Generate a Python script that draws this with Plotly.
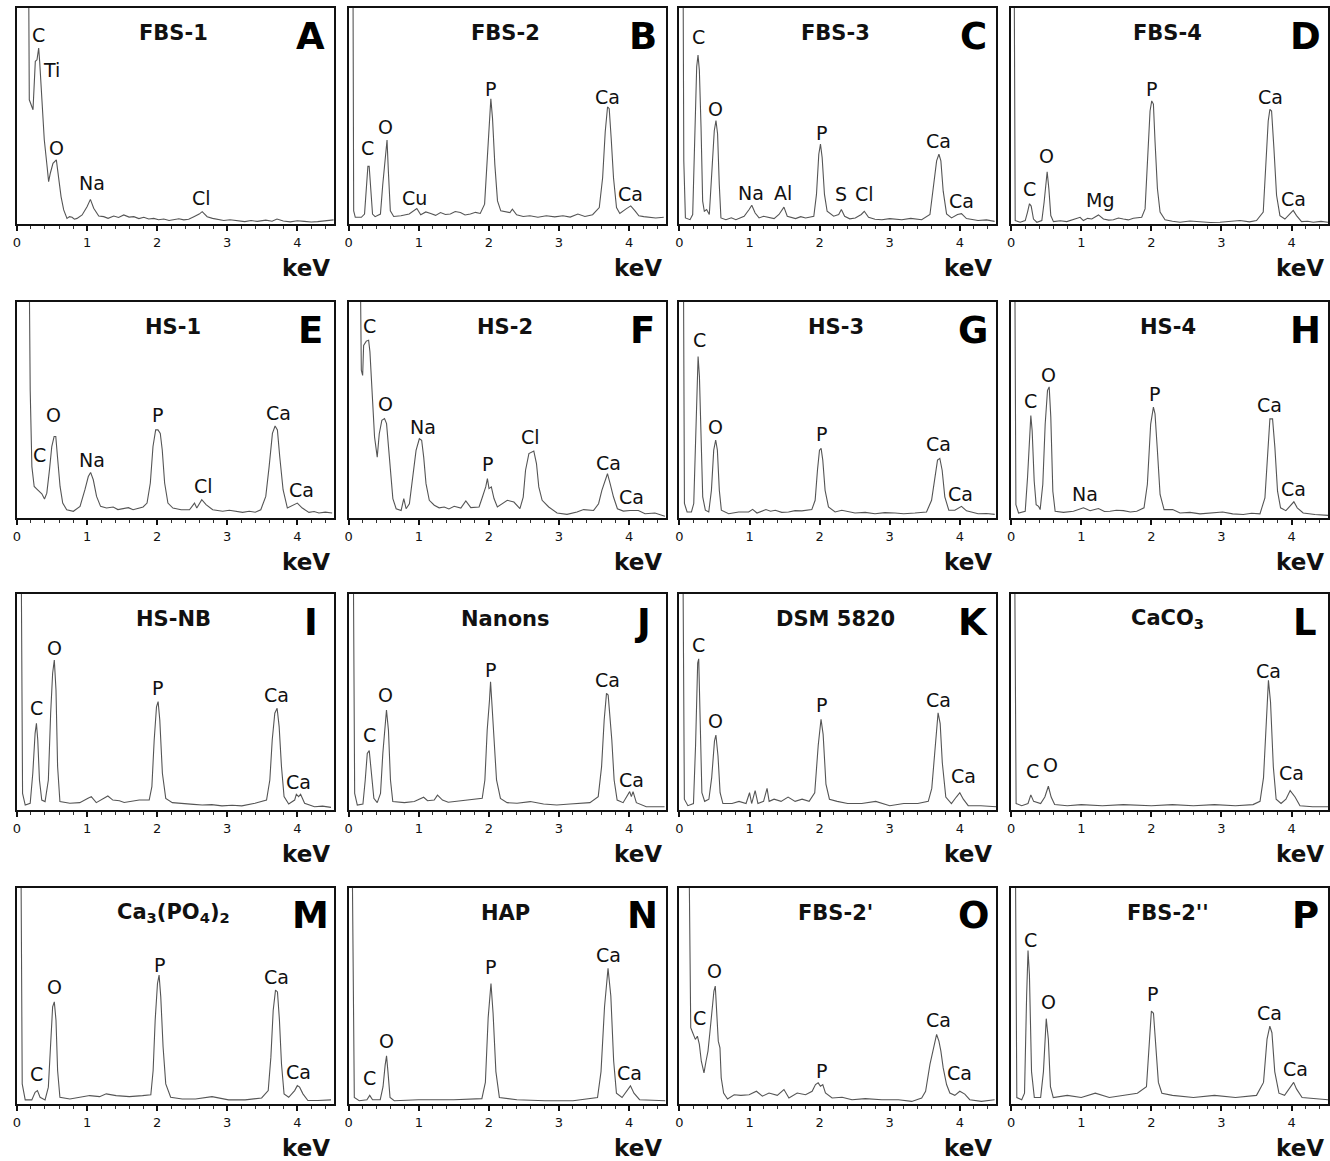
import plotly.graph_objects as go

W, H = 1330, 1161

# ---------------- spectra (keV, relative counts; 100 = top of frame) ----------------
fbs1_kev = [0.167, 0.176, 0.229, 0.262, 0.286, 0.31, 0.324, 0.357, 0.39, 0.43, 0.452, 0.476, 0.514, 0.562, 0.595,
            0.629, 0.667, 0.714, 0.75, 0.786, 0.82, 0.857, 0.93, 1.0, 1.048, 1.095, 1.167, 1.238, 1.3, 1.381, 1.45,
            1.524, 1.6, 1.667, 1.74, 1.81, 1.88, 1.952, 2.02, 2.095, 2.17, 2.238, 2.31, 2.381, 2.45, 2.524, 2.6,
            2.643, 2.714, 2.79, 2.857, 2.95, 3.04, 3.14, 3.25, 3.34, 3.43, 3.55, 3.64, 3.71, 3.8, 3.9, 4.0, 4.1,
            4.2, 4.29, 4.4, 4.52]
fbs1_counts = [115, 57.5, 52.9, 75.3, 76, 81.5, 75.3, 57.5, 39, 26.6, 19.6, 23.5, 28.1, 29.7, 22,
               12.7, 6.5, 2.6, 3.4, 3.1, 2.2, 2.6, 4.2, 8, 11.4, 7.3, 3.7, 3.4, 2.6, 3.7, 3.0,
               4.2, 3.2, 3.4, 2.5, 3.1, 2.3, 2.6, 2.0, 2.3, 1.6, 1.9, 2.4, 1.9, 2.2, 3.4, 4.6,
               5.7, 3.4, 2.6, 2.2, 1.6, 2.0, 1.5, 1.1, 1.6, 1.2, 1.8, 1.3, 2.3, 1.4, 1.0, 1.5, 1.2,
               0.9, 1.1, 1.6, 1.9]
fbs1_labels = [("C", 0.31, 87.5), ("Ti", 0.50, 71.3), ("O", 0.56, 35), ("Na", 1.07, 18.8), ("Cl", 2.63, 11.9)]

fbs2_kev = [0.061, 0.071, 0.094, 0.18, 0.226, 0.255, 0.274, 0.292, 0.311, 0.34, 0.377, 0.453, 0.486, 0.519, 0.547,
            0.566, 0.594, 0.642, 0.745, 0.863, 0.925, 0.972, 1.028, 1.1, 1.17, 1.24, 1.31, 1.38, 1.45, 1.52, 1.594,
            1.66, 1.736, 1.81, 1.877, 1.939, 1.972, 2.005, 2.028, 2.052, 2.085, 2.123, 2.17, 2.3, 2.335, 2.396,
            2.49, 2.585, 2.7, 2.82, 2.94, 3.057, 3.16, 3.27, 3.37, 3.48, 3.575, 3.623, 3.66, 3.693, 3.717, 3.745,
            3.778, 3.821, 3.868, 3.953, 4.024, 4.085, 4.14, 4.21, 4.283, 4.38, 4.495]
fbs2_counts = [115, 6.1, 3.1, 3.1, 4.6, 18.3, 26.7, 26.7, 18.3, 4.6, 3.4, 4.6, 18.3, 30.5, 38.9,
               24.4, 6.1, 3.5, 3.8, 4.6, 6.1, 7.2, 4.3, 5.6, 4.9, 4.0, 5.3, 4.4, 4.6, 5.8, 5.3,
               4.2, 4.6, 5.4, 4.9, 9.2, 27.5, 48.9, 58, 48.9, 27.5, 10.7, 6.1, 5.3, 6.9, 4.3,
               3.5, 3.8, 3.1, 3.8, 3.3, 3.8, 3.2, 4.6, 3.5, 4.3, 7.6, 21.4, 42.7, 54.2, 53.4, 39.7,
               21.4, 7.6, 4.9, 6.9, 8.4, 6.1, 3.8, 3.4, 3.1, 2.8, 3.1]
fbs2_labels = [("C", 0.27, 35.1), ("O", 0.53, 45), ("Cu", 0.94, 12.2), ("P", 2.02, 62.6), ("Ca", 3.69, 58.8),
               ("Ca", 4.02, 13.7)]

fbs3_kev = [0.052, 0.062, 0.085, 0.151, 0.189, 0.218, 0.246, 0.265, 0.284, 0.308, 0.331, 0.355, 0.388, 0.426,
            0.459, 0.497, 0.521, 0.544, 0.568, 0.592, 0.663, 0.74, 0.805, 0.87, 0.923, 0.994, 1.032, 1.08, 1.136,
            1.2, 1.278, 1.35, 1.42, 1.491, 1.538, 1.6, 1.657, 1.73, 1.8, 1.917, 1.955, 1.988, 2.012, 2.036, 2.069,
            2.107, 2.2, 2.272, 2.31, 2.357, 2.43, 2.509, 2.594, 2.637, 2.698, 2.79, 2.888, 3.0, 3.172, 3.3, 3.456,
            3.574, 3.621, 3.669, 3.702, 3.73, 3.763, 3.811, 3.882, 3.967, 4.024, 4.095, 4.26, 4.38, 4.497]
fbs3_counts = [115, 29.2, 2.8, 2.0, 4.4, 41.7, 72.8, 78.2, 71.2, 44.8, 10.6, 5.9, 6.7, 4.4,
               21.5, 43.2, 47.9, 41.7, 18.4, 2.8, 2.0, 2.9, 2.0, 2.8, 3.6, 6.7, 8.7, 5.1, 2.8,
               3.6, 3.1, 2.5, 4.4, 7.8, 3.6, 2.9, 2.5, 3.4, 2.8, 3.6, 13.7, 32.3, 37, 30.8, 13.7,
               5.9, 3.6, 4.4, 6.7, 3.6, 2.4, 2.8, 4.4, 5.9, 3.1, 2.2, 2.0, 2.5, 2.0, 2.6, 2.0,
               4.4, 16.8, 29.2, 32.3, 29.2, 15.2, 4.7, 2.8, 4.4, 4.8, 2.5, 1.6, 1.9, 1.2]
fbs3_labels = [("C", 0.275, 86.5), ("O", 0.52, 53.3), ("Na", 1.02, 14.5), ("Al", 1.48, 14.5), ("P", 2.02, 42),
               ("S", 2.31, 14), ("Cl", 2.64, 14), ("Ca", 3.7, 38.6), ("Ca", 4.02, 10.6)]

fbs4_kev = [0.043, 0.057, 0.128, 0.2, 0.233, 0.261, 0.285, 0.318, 0.366, 0.437, 0.47, 0.494, 0.513, 0.537, 0.565,
            0.603, 0.7, 0.793, 0.888, 0.983, 1.03, 1.09, 1.15, 1.245, 1.316, 1.39, 1.458, 1.53, 1.6, 1.67, 1.743,
            1.862, 1.91, 1.943, 1.981, 2.005, 2.029, 2.052, 2.086, 2.124, 2.195, 2.3, 2.409, 2.55, 2.694, 2.84,
            2.979, 3.12, 3.264, 3.4, 3.5, 3.596, 3.634, 3.667, 3.691, 3.715, 3.748, 3.786, 3.834, 3.905, 3.976,
            4.024, 4.071, 4.143, 4.23, 4.31, 4.42, 4.52]
fbs4_counts = [115, 1.6, 0.8, 1.6, 5.5, 9.4, 8.3, 2.3, 0.8, 1.6, 10.2, 19.5, 24.2, 16.4, 3.9,
               1.1, 1.5, 1.1, 2.0, 3.1, 1.6, 2.6, 2.3, 4.2, 2.3, 1.8, 2.0, 2.8, 2.3, 1.9, 2.7,
               3.1, 7, 28.9, 52.3, 57, 55.5, 38.3, 16.4, 5.5, 2.0, 1.3, 0.8, 1.4, 1.1, 0.7,
               0.8, 1.3, 1.6, 1.0, 1.6, 5.5, 25.8, 47.7, 53.1, 52.3, 35.2, 13.3, 3.9, 2.3, 4.7,
               6.3, 3.9, 1.1, 1.3, 0.8, 1.2, 0.8]
fbs4_labels = [("C", 0.26, 16.4), ("O", 0.51, 31.3), ("Mg", 1.26, 10.9), ("P", 2.0, 62.5), ("Ca", 3.7, 58.6),
               ("Ca", 4.03, 11.7)]

hs1_kev = [0.175, 0.189, 0.213, 0.246, 0.284, 0.322, 0.355, 0.393, 0.426, 0.464, 0.497, 0.53, 0.554, 0.578, 0.615,
           0.653, 0.71, 0.805, 0.9, 0.97, 1.018, 1.051, 1.089, 1.136, 1.193, 1.278, 1.373, 1.44, 1.515, 1.59,
           1.657, 1.73, 1.8, 1.856, 1.903, 1.941, 1.979, 2.012, 2.045, 2.073, 2.107, 2.154, 2.225, 2.343, 2.462,
           2.533, 2.566, 2.637, 2.698, 2.793, 2.935, 3.03, 3.124, 3.22, 3.314, 3.4, 3.479, 3.55, 3.598, 3.645,
           3.683, 3.716, 3.749, 3.797, 3.858, 3.929, 4.0, 4.071, 4.166, 4.24, 4.308, 4.4, 4.497]
hs1_counts = [115, 59.2, 23.8, 14.6, 13.4, 12.3, 11.2, 8.8, 11.5, 22.3, 33.1, 37.7, 37.7, 28.5, 14.6,
              6.9, 3.8, 3.1, 5.4, 13.1, 19.2, 21.1, 17.7, 10, 5.4, 4.6, 5.1, 3.9, 4.2, 4.8,
              3.8, 4.4, 5.1, 6.9, 16.2, 33.1, 40.8, 40.8, 39.2, 31.5, 16.2, 6.9, 4.6, 3.8, 3.8,
              6.9, 4.6, 8.5, 6.2, 3.8, 3.1, 3.6, 3.1, 2.6, 3.1, 2.7, 3.8, 10, 23.8, 39.2,
              42.6, 40.8, 28.5, 13.1, 4.6, 5.7, 6.9, 4.6, 2.6, 3.0, 2.3, 2.7, 2.3]
hs1_labels = [("C", 0.32, 29.2), ("O", 0.52, 47.7), ("Na", 1.07, 26.9), ("P", 2.01, 47.7), ("Cl", 2.66, 14.6),
              ("Ca", 3.73, 48.5), ("Ca", 4.06, 13.1)]

hs2_kev = [0.166, 0.18, 0.199, 0.213, 0.251, 0.284, 0.303, 0.322, 0.341, 0.369, 0.407, 0.436, 0.473, 0.511, 0.54,
           0.568, 0.596, 0.63, 0.677, 0.748, 0.786, 0.819, 0.866, 0.914, 0.961, 1.008, 1.041, 1.07, 1.103, 1.15,
           1.221, 1.29, 1.363, 1.43, 1.505, 1.6, 1.671, 1.742, 1.86, 1.908, 1.955, 1.979, 2.002, 2.035, 2.073,
           2.121, 2.192, 2.263, 2.357, 2.443, 2.49, 2.523, 2.571, 2.641, 2.679, 2.712, 2.76, 2.854, 2.973,
           3.115, 3.257, 3.352, 3.494, 3.565, 3.612, 3.659, 3.692, 3.73, 3.778, 3.834, 3.919, 4.014, 4.133,
           4.228, 4.369, 4.511]
hs2_counts = [115, 68.4, 66, 79.9, 81.9, 82.3, 76.9, 65.3, 48.3, 37.5, 28.2, 39, 45.2, 46, 43.7,
              32.9, 19, 9, 4.3, 3.5, 9, 4.3, 6.6, 19, 31.3, 36.7, 36, 28.2, 15.9, 8.2,
              5.9, 4.7, 5.1, 4.2, 5.4, 4.6, 7.9, 4.8, 5.1, 9.7, 14.4, 18.2, 13.6, 14.4, 9,
              5.1, 6.6, 8.2, 7.4, 4.3, 9.7, 22.1, 29.8, 31, 25.2, 14.4, 8.2, 5.1, 2.3,
              1.7, 2.8, 3.9, 3.5, 6.6, 12.8, 17.4, 20.5, 15.9, 9.7, 4.3, 3.2, 3.5, 3.5,
              2.0, 2.3, 0.8]
hs2_labels = [("C", 0.3, 88.7), ("O", 0.52, 52.9), ("Na", 1.06, 42.1), ("P", 1.98, 25.2), ("Cl", 2.6, 37.5),
              ("Ca", 3.71, 25.5), ("Ca", 4.04, 9.7)]

hs3_kev = [0.057, 0.071, 0.109, 0.171, 0.204, 0.228, 0.251, 0.266, 0.285, 0.308, 0.332, 0.37, 0.418, 0.456, 0.489,
           0.517, 0.541, 0.569, 0.598, 0.702, 0.845, 0.987, 1.044, 1.106, 1.234, 1.3, 1.367, 1.46, 1.556, 1.65,
           1.746, 1.888, 1.936, 1.969, 1.998, 2.021, 2.045, 2.078, 2.126, 2.221, 2.316, 2.505, 2.65, 2.79, 2.93,
           3.075, 3.2, 3.359, 3.525, 3.597, 3.644, 3.682, 3.715, 3.748, 3.786, 3.843, 3.929, 4.024, 4.095,
           4.261, 4.38, 4.498]
hs3_counts = [115, 6.7, 2.8, 2.8, 6.7, 36.1, 67, 74.8, 65.5, 36.1, 9.8, 3.6, 2.8, 12.8, 31.4,
              36.1, 31.4, 12.8, 3.6, 2.0, 2.8, 2.8, 4.0, 2.3, 3.9, 3.1, 3.6, 2.6, 2.8, 3.4,
              3.3, 3.9, 8.2, 22.1, 31.4, 32.2, 26.8, 12.8, 5.1, 2.8, 3.6, 2.3, 2.6, 2.0, 2.5,
              2.3, 2.0, 2.3, 2.8, 8.2, 19, 26.8, 27.6, 22.1, 9.8, 3.6, 3.6, 5.4, 3.3,
              2.0, 2.1, 1.7]
hs3_labels = [("C", 0.28, 82.5), ("O", 0.51, 42.3), ("P", 2.02, 38.9), ("Ca", 3.7, 34.2), ("Ca", 4.01, 11)]

hs4_kev = [0.052, 0.067, 0.105, 0.2, 0.233, 0.261, 0.28, 0.299, 0.328, 0.356, 0.39, 0.413, 0.451, 0.485, 0.518,
           0.542, 0.565, 0.594, 0.627, 0.746, 0.888, 1.031, 1.126, 1.245, 1.33, 1.411, 1.5, 1.601, 1.7, 1.791,
           1.895, 1.943, 1.99, 2.029, 2.052, 2.086, 2.124, 2.181, 2.304, 2.409, 2.55, 2.694, 2.85, 3.017, 3.16,
           3.311, 3.43, 3.549, 3.62, 3.658, 3.691, 3.729, 3.762, 3.8, 3.843, 3.919, 4.0, 4.033, 4.081, 4.166,
           4.333, 4.523]
hs4_counts = [115, 6.2, 2.3, 3.1, 18.7, 40.4, 47.4, 40.4, 17.1, 6.2, 5.4, 3.9, 15.6, 43.5, 59.1,
              60.7, 46.7, 12.4, 3.1, 2.6, 3.1, 4.7, 3.4, 4.4, 3.0, 3.1, 3.6, 3.4, 2.8, 3.1,
              4.7, 15.6, 43.5, 51.3, 48.2, 31.1, 10.9, 3.9, 3.9, 2.3, 2.6, 1.9, 2.3, 2.8, 1.9,
              1.6, 2.2, 1.9, 9.3, 29.5, 45.9, 45.9, 32.7, 12.4, 4.7, 3.4, 6.2, 7.5, 4.7, 2.3,
              1.6, 1.2]
hs4_labels = [("C", 0.27, 54.4), ("O", 0.53, 66.1), ("Na", 1.05, 10.9), ("P", 2.04, 57.5), ("Ca", 3.69, 52.1),
              ("Ca", 4.03, 13.2)]

hsnb_kev = [0.061, 0.08, 0.118, 0.189, 0.226, 0.259, 0.278, 0.297, 0.321, 0.354, 0.401, 0.448, 0.481, 0.509, 0.533,
            0.557, 0.58, 0.613, 0.755, 0.896, 1.014, 1.061, 1.132, 1.226, 1.297, 1.368, 1.462, 1.53, 1.604, 1.68,
            1.745, 1.887, 1.925, 1.958, 1.991, 2.014, 2.038, 2.075, 2.123, 2.217, 2.406, 2.52, 2.642, 2.78, 2.925,
            3.07, 3.208, 3.396, 3.561, 3.608, 3.642, 3.679, 3.712, 3.741, 3.774, 3.811, 3.877, 3.962, 3.986,
            4.019, 4.047, 4.104, 4.245, 4.36, 4.481]
hsnb_counts = [115, 7.7, 2.3, 3.1, 17, 35.5, 40.1, 32.4, 13.9, 4.6, 3.9, 13.9, 44.8, 63.3, 69.4,
               55.6, 20.1, 3.9, 3.1, 3.4, 5.4, 6.2, 3.4, 5.4, 6.5, 4.6, 4.3, 3.5, 3.9, 4.4,
               4.6, 4.6, 10.8, 32.4, 47.8, 50.2, 41.7, 17, 5.4, 3.4, 3.1, 2.6, 2.3, 2.5, 1.9,
               2.2, 1.9, 3.1, 4.6, 13.9, 32.4, 44.8, 47.1, 38.6, 20.1, 6.2, 2.8, 4.6, 7.3,
               6.2, 7.3, 3.1, 1.5, 1.8, 1.2]
hsnb_labels = [("C", 0.28, 47.1), ("O", 0.53, 74.8), ("P", 2.0, 56.3), ("Ca", 3.7, 53.2), ("Ca", 4.01, 13.1)]

nanons_kev = [0.066, 0.085, 0.123, 0.203, 0.236, 0.265, 0.293, 0.322, 0.359, 0.407, 0.454, 0.487, 0.52, 0.539,
              0.567, 0.596, 0.629, 0.794, 0.936, 1.069, 1.125, 1.22, 1.267, 1.338, 1.42, 1.504, 1.645, 1.787,
              1.905, 1.943, 1.976, 2.009, 2.024, 2.043, 2.071, 2.109, 2.165, 2.26, 2.402, 2.591, 2.78, 2.969,
              3.158, 3.348, 3.442, 3.56, 3.608, 3.645, 3.678, 3.702, 3.726, 3.754, 3.787, 3.83, 3.915, 3.986,
              4.009, 4.033, 4.057, 4.104, 4.246, 4.506]
nanons_counts = [115, 7.7, 2.3, 2.8, 13.9, 26.2, 27.5, 17, 5.4, 3.4, 7.7, 26.2, 40.1, 46.3,
                 37, 13.9, 3.9, 3.4, 3.9, 5.9, 4.3, 4.6, 6.9, 4.6, 3.6, 3.9, 4.3, 4.9,
                 5.4, 13.9, 37, 50.9, 59.4, 49.4, 34, 13.9, 5.4, 3.4, 3.1, 3.9, 2.8, 2.3,
                 2.8, 3.4, 3.4, 6.2, 20.1, 41.7, 54, 53.2, 44.8, 32.4, 13.9, 4.6, 3.4, 6.9,
                 8.5, 6.2, 8.5, 3.4, 1.5, 1.5]
nanons_labels = [("C", 0.3, 34.7), ("O", 0.53, 53.2), ("P", 2.02, 64.8), ("Ca", 3.69, 60.2), ("Ca", 4.03, 13.9)]

dsm_kev = [0.05, 0.07, 0.12, 0.2, 0.23, 0.26, 0.275, 0.29, 0.32, 0.36, 0.42, 0.46, 0.5, 0.52, 0.55, 0.58, 0.62,
           0.75, 0.85, 0.95, 1.0, 1.03, 1.08, 1.12, 1.2, 1.25, 1.28, 1.35, 1.45, 1.55, 1.65, 1.75, 1.85, 1.93,
           1.98, 2.02, 2.05, 2.09, 2.14, 2.25, 2.4, 2.6, 2.8, 3.0, 3.2, 3.4, 3.55, 3.6, 3.65, 3.69, 3.72, 3.75,
           3.8, 3.88, 3.95, 4.0, 4.05, 4.12, 4.3, 4.52]
dsm_counts = [115, 5, 2, 3, 30, 68, 70, 50, 8, 4, 5, 15, 32, 34.7, 25, 8, 3,
              3, 4, 3, 8, 3, 9, 3, 4, 10, 4, 5, 4, 6, 4, 5, 4, 8,
              30, 42, 35, 12, 5, 4, 3, 3, 4, 2, 3, 3, 4, 10, 30, 45, 40, 22,
              6, 3, 6, 8, 5, 2, 2, 1.5]
dsm_labels = [("C", 0.27, 76.4), ("O", 0.52, 41.2), ("P", 2.02, 48.6), ("Ca", 3.69, 50.9), ("Ca", 4.05, 15.7)]

caco3_kev = [0.05, 0.07, 0.15, 0.24, 0.28, 0.32, 0.42, 0.48, 0.53, 0.57, 0.62, 0.8, 1.0, 1.3, 1.6, 2.0, 2.3, 2.6,
             2.9, 3.2, 3.45, 3.55, 3.6, 3.64, 3.67, 3.7, 3.74, 3.78, 3.85, 3.92, 3.98, 4.05, 4.12, 4.3, 4.52]
caco3_counts = [115, 3, 2, 3, 7, 4, 3, 6, 11, 6, 2.5, 2, 2.5, 2, 2.5, 2, 2.5, 2,
                2.5, 2, 2.5, 4, 15, 45, 60, 50, 20, 5, 3, 5, 9, 6, 2, 1.5, 1.5]
caco3_labels = [("C", 0.3, 18), ("O", 0.56, 20.8), ("Ca", 3.67, 64.4), ("Ca", 4.0, 17.1)]

ca3po4_kev = [0.057, 0.075, 0.118, 0.212, 0.259, 0.292, 0.33, 0.401, 0.448, 0.481, 0.509, 0.533, 0.557, 0.58,
              0.613, 0.755, 0.896, 1.038, 1.179, 1.274, 1.415, 1.604, 1.792, 1.91, 1.943, 1.972, 2.005, 2.028,
              2.052, 2.085, 2.123, 2.193, 2.358, 2.547, 2.783, 3.019, 3.255, 3.491, 3.585, 3.623, 3.656, 3.689,
              3.717, 3.745, 3.774, 3.811, 3.877, 3.962, 4.0, 4.033, 4.08, 4.151, 4.292, 4.481]
ca3po4_counts = [115, 9.3, 1.9, 1.9, 5.4, 6.2, 3.1, 1.9, 7.8, 31, 45, 47.3, 38.8, 15.5,
                 3.1, 2.3, 3.1, 3.9, 3.4, 4.7, 3.9, 3.4, 3.9, 4.3, 15.5, 38.8, 55.8, 59.7,
                 49.6, 26.4, 9.3, 3.1, 2.3, 2.3, 3.4, 1.9, 1.9, 2.8, 6.2, 21.7, 43.4, 52.7,
                 51.9, 38.8, 18.6, 4.7, 3.1, 6.2, 8.5, 7.8, 4.7, 1.6, 1.6, 1.9]
ca3po4_labels = [("C", 0.28, 14), ("O", 0.53, 54.3), ("P", 2.03, 64.3), ("Ca", 3.7, 58.9), ("Ca", 4.02, 15)]

hap_kev = [0.05, 0.08, 0.15, 0.26, 0.3, 0.34, 0.45, 0.49, 0.52, 0.54, 0.56, 0.59, 0.65, 1.0, 1.5, 1.9, 1.95, 1.99,
           2.03, 2.06, 2.1, 2.15, 2.4, 2.8, 3.2, 3.55, 3.6, 3.65, 3.7, 3.74, 3.78, 3.82, 3.9, 3.97, 4.02, 4.07,
           4.15, 4.52]
hap_counts = [115, 3, 1.5, 2, 4, 2, 2, 8, 18, 22.3, 15, 3, 1.5, 2, 2, 2.5, 10, 40,
              55.8, 42, 15, 3, 2, 1.5, 1.5, 3, 15, 45, 62.8, 50, 20, 5, 3, 6, 8.4, 5,
              2, 1.5]
hap_labels = [("C", 0.3, 12.1), ("O", 0.54, 29.3), ("P", 2.03, 63.3), ("Ca", 3.71, 68.8), ("Ca", 4.01, 14.4)]

fbs2p_kev = [0.137, 0.147, 0.161, 0.189, 0.227, 0.256, 0.284, 0.312, 0.35, 0.379, 0.407, 0.436, 0.464, 0.492,
             0.511, 0.53, 0.554, 0.578, 0.596, 0.63, 0.686, 0.781, 0.876, 0.994, 1.098, 1.183, 1.278, 1.396,
             1.491, 1.562, 1.68, 1.799, 1.893, 1.941, 1.979, 2.012, 2.045, 2.083, 2.178, 2.32, 2.462, 2.651,
             2.888, 3.124, 3.314, 3.456, 3.512, 3.574, 3.621, 3.669, 3.702, 3.73, 3.763, 3.811, 3.858, 3.929,
             4.0, 4.071, 4.142, 4.308, 4.497]
fbs2p_counts = [115, 61.6, 35.3, 33, 29.9, 31.4, 27.6, 19.8, 14.4, 19.8, 24.5, 33.7, 44.6, 52.3,
                54.6, 41.5, 29.1, 26, 12.1, 5.1, 2.3, 4.3, 4.0, 4.3, 5.9, 3.6, 5.1, 4.0,
                6.7, 2.8, 5.1, 4.3, 5.9, 9, 9.8, 8.2, 9, 5.1, 2.8, 3.1, 2.0, 2.5,
                2.0, 2.0, 1.2, 2.8, 5.9, 18.3, 26, 32.2, 29.1, 24.5, 16.7, 9, 5.1, 4.0,
                5.9, 4.6, 2.0, 1.2, 2.0]
fbs2p_labels = [("C", 0.29, 39.9), ("O", 0.5, 61.6), ("P", 2.03, 15.2), ("Ca", 3.7, 38.7), ("Ca", 4.0, 14.4)]

fbs2pp_kev = [0.06, 0.08, 0.15, 0.19, 0.22, 0.24, 0.26, 0.29, 0.33, 0.42, 0.46, 0.49, 0.5, 0.53, 0.56, 0.6, 0.8,
              1.0, 1.2, 1.4, 1.6, 1.8, 1.93, 1.98, 2.0, 2.03, 2.06, 2.1, 2.15, 2.3, 2.6, 2.9, 3.2, 3.5, 3.6, 3.65,
              3.69, 3.72, 3.76, 3.82, 3.9, 3.98, 4.03, 4.07, 4.15, 4.52]
fbs2pp_counts = [115, 3, 2, 5, 50, 71, 60, 15, 3, 3, 15, 35, 39.5, 30, 8, 3, 4,
                 3, 5, 3, 4, 5, 8, 35, 43, 42, 30, 10, 5, 4, 3, 4, 3, 4, 10, 30,
                 36, 33, 15, 5, 4, 8, 10, 7, 3, 2]
fbs2pp_labels = [("C", 0.27, 75.8), ("O", 0.53, 47.4), ("P", 2.02, 50.7), ("Ca", 3.69, 42.3), ("Ca", 4.05, 16.3)]

tick_vals = [0, 1, 2, 3, 4]
tick_text = ["0", "1", "2", "3", "4"]

panels = [
    ("FBS-1", "A", fbs1_kev, fbs1_counts, fbs1_labels),
    ("FBS-2", "B", fbs2_kev, fbs2_counts, fbs2_labels),
    ("FBS-3", "C", fbs3_kev, fbs3_counts, fbs3_labels),
    ("FBS-4", "D", fbs4_kev, fbs4_counts, fbs4_labels),
    ("HS-1", "E", hs1_kev, hs1_counts, hs1_labels),
    ("HS-2", "F", hs2_kev, hs2_counts, hs2_labels),
    ("HS-3", "G", hs3_kev, hs3_counts, hs3_labels),
    ("HS-4", "H", hs4_kev, hs4_counts, hs4_labels),
    ("HS-NB", "I", hsnb_kev, hsnb_counts, hsnb_labels),
    ("Nanons", "J", nanons_kev, nanons_counts, nanons_labels),
    ("DSM 5820", "K", dsm_kev, dsm_counts, dsm_labels),
    ("CaCO<sub>3</sub>", "L", caco3_kev, caco3_counts, caco3_labels),
    ("Ca<sub>3</sub>(PO<sub>4</sub>)<sub>2</sub>", "M", ca3po4_kev, ca3po4_counts, ca3po4_labels),
    ("HAP", "N", hap_kev, hap_counts, hap_labels),
    ("FBS-2'", "O", fbs2p_kev, fbs2p_counts, fbs2p_labels),
    ("FBS-2''", "P", fbs2pp_kev, fbs2pp_counts, fbs2pp_labels),
]

# ---------------- layout geometry (pixels) ----------------
col_left = [13, 346, 678, 1011]
row_top = [8, 302, 594, 888]
PW, PH = 318, 216
FONT = "DejaVu Sans"

fig = go.Figure()
layout = {}
annotations = []


def px(xp, yp):
    return xp / W, 1 - yp / H


for i, (title, letter, xs, ys, labels) in enumerate(panels):
    r, c = divmod(i, 4)
    n = "" if i == 0 else str(i + 1)
    left, top = col_left[c], row_top[r]
    layout["xaxis" + n] = dict(
        domain=[left / W, (left + PW) / W], anchor="y" + n, range=[0, 4.52],
        tickmode="array", tickvals=tick_vals, ticktext=tick_text,
        ticks="outside", ticklen=5, tickwidth=1.5, tickcolor="#111",
        minor=dict(tick0=0, dtick=0.2, ticks="outside", ticklen=3, tickwidth=1, tickcolor="#333"),
        showline=True, mirror=True, linewidth=2, linecolor="#111",
        showgrid=False, zeroline=False, fixedrange=True,
        tickfont=dict(family=FONT, size=13, color="#111"),
    )
    layout["yaxis" + n] = dict(
        domain=[1 - (top + PH) / H, 1 - top / H], anchor="x" + n, range=[0, 100],
        showticklabels=False, ticks="", showline=True, mirror=True, linewidth=2, linecolor="#111",
        showgrid=False, zeroline=False, fixedrange=True,
    )
    fig.add_trace(go.Scatter(x=xs, y=ys, xaxis="x" + n, yaxis="y" + n, mode="lines",
                             line=dict(color="#555555", width=1.1), showlegend=False, hoverinfo="skip"))
    for name, kx, ky in labels:
        annotations.append(dict(x=kx, y=ky, xref="x" + n, yref="y" + n, text=name, showarrow=False,
                                xanchor="center", yanchor="middle",
                                font=dict(family=FONT, size=19, color="#111")))
    tx, ty = px(left + 157, top + 25)
    annotations.append(dict(x=tx, y=ty, xref="paper", yref="paper", text="<b>" + title + "</b>",
                            showarrow=False, xanchor="center", yanchor="middle",
                            font=dict(family=FONT, size=21, color="#111")))
    lx, ly = px(left + 295, top + 28)
    annotations.append(dict(x=lx, y=ly, xref="paper", yref="paper", text="<b>" + letter + "</b>",
                            showarrow=False, xanchor="center", yanchor="middle",
                            font=dict(family=FONT, size=37, color="#000")))
    kx_, ky_ = px(left + PW - 2, top + PH + 44)
    annotations.append(dict(x=kx_, y=ky_, xref="paper", yref="paper", text="<b>keV</b>",
                            showarrow=False, xanchor="right", yanchor="middle",
                            font=dict(family=FONT, size=23, color="#111")))

layout.update(dict(
    width=W, height=H, margin=dict(l=0, r=0, t=0, b=0),
    paper_bgcolor="white", plot_bgcolor="white", showlegend=False,
    annotations=annotations,
))
fig.update_layout(**layout)
fig.write_html("out.html", config={"displayModeBar": False},
               post_script="document.body.style.margin='0';document.body.style.overflow='hidden';")
